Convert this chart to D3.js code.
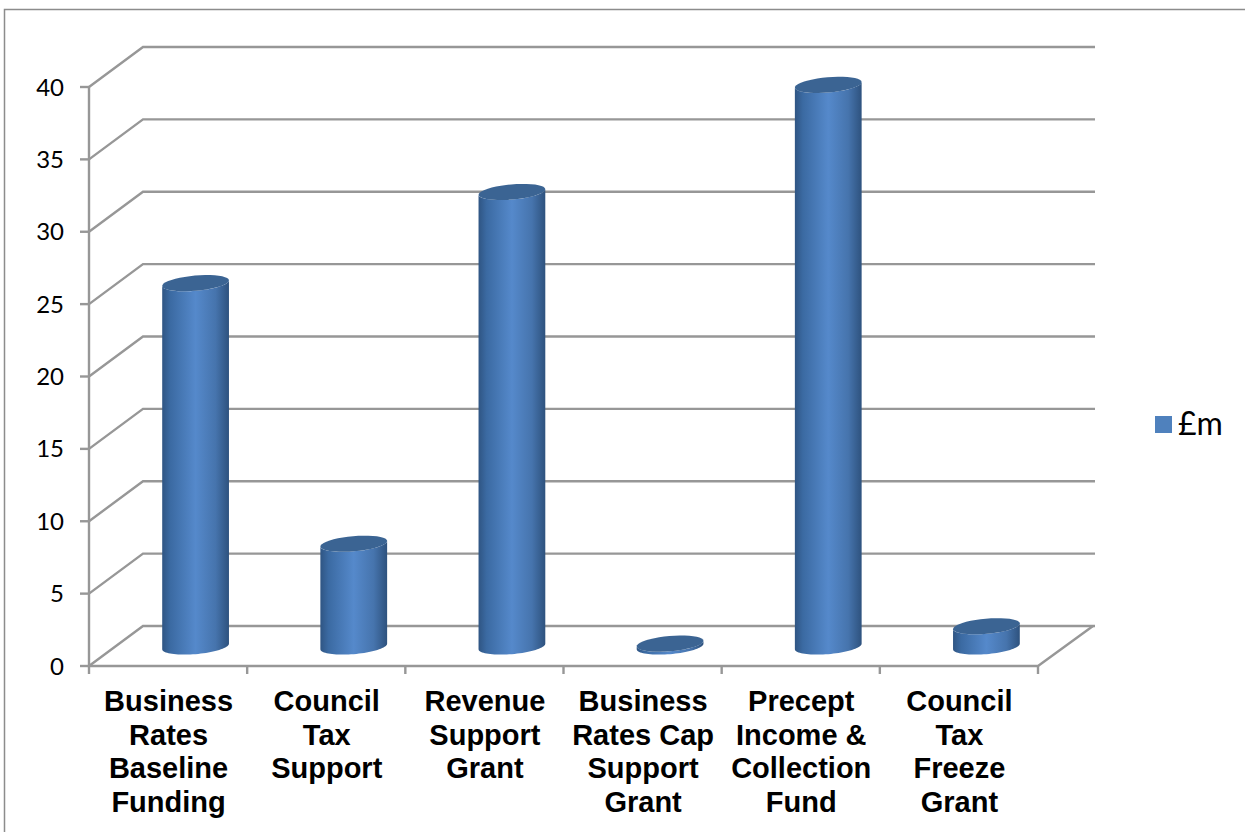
<!DOCTYPE html>
<html>
<head>
<meta charset="utf-8">
<script src="https://cdn.jsdelivr.net/npm/d3@7"></script>
<style>
html,body{margin:0;padding:0;background:#fff;overflow:hidden}
svg{display:block}
</style>
</head>
<body>
<svg id="chart" width="1245" height="832"></svg>
<script>
const categories = [
  ["Business","Rates","Baseline","Funding"],
  ["Council","Tax","Support"],
  ["Revenue","Support","Grant"],
  ["Business","Rates Cap","Support","Grant"],
  ["Precept","Income &","Collection","Fund"],
  ["Council","Tax","Freeze","Grant"]
];
const amounts = [25.1, 7.1, 31.4, 0.2, 38.8, 1.4];
const yTicks = [0, 5, 10, 15, 20, 25, 30, 35, 40];
const seriesName = "£m";

const svg = d3.select("#chart");
const gridColor = "#979797";
const depth = {x: 54, y: -40};

const x = d3.scaleBand().domain(d3.range(categories.length)).range([89, 1038]);
const y = d3.scaleLinear().domain([0, 40]).range([666, 87]);

// Frame around the chart area
svg.append("path")
  .attr("d", "M4.5,832V9.5H1245")
  .attr("fill", "none").attr("stroke", "#8c8c8c").attr("stroke-width", 1.5);

// Horizontal gradient that gives the columns their round shading
const grad = svg.append("defs").append("linearGradient").attr("id", "cyl");
[[0, "#2f5583"], [0.12, "#3b6aa2"], [0.5, "#5589cb"], [0.8, "#4674ad"], [1, "#2e527e"]]
  .forEach(([o, c]) => grad.append("stop").attr("offset", o).attr("stop-color", c));

// Back wall gridlines with their slanted returns to the value axis
const grid = svg.append("g").attr("fill", "none").attr("stroke", gridColor).attr("stroke-width", 2.4);
grid.selectAll("path").data(yTicks).join("path")
  .attr("d", d => d3.line()([
    [x.range()[0], y(d)],
    [x.range()[0] + depth.x, y(d) + depth.y],
    [x.range()[1] + depth.x + 3, y(d) + depth.y]
  ]));

// Floor edges and the value axis
grid.append("path").attr("d", d3.line()([
  [x.range()[1] + depth.x + 1, y(0) + depth.y],
  [x.range()[1], y(0)],
  [x.range()[0], y(0)],
  [x.range()[0], y(40)]
]));

// Tick marks
grid.append("g").selectAll("line").data(yTicks).join("line")
  .attr("x1", x.range()[0] - 9).attr("x2", x.range()[0])
  .attr("y1", d => y(d)).attr("y2", d => y(d));
grid.append("g").selectAll("line").data(d3.range(categories.length + 1)).join("line")
  .attr("x1", d => x.range()[0] + d * x.bandwidth())
  .attr("x2", d => x.range()[0] + d * x.bandwidth())
  .attr("y1", y(0)).attr("y2", y(0) + 8);

// Value labels
svg.append("g").selectAll("text").data(yTicks).join("text")
  .attr("x", 64).attr("y", d => y(d) + 8.5)
  .attr("text-anchor", "end")
  .attr("font-family", "Lato, sans-serif").attr("font-size", 24).attr("fill", "#000")
  .text(d => d);

// Points along a tilted ellipse between two parameter angles
const rx = 33.5, ry = 7.6, tilt = -5 * Math.PI / 180;
const tangent = Math.atan2(-ry * Math.sin(tilt), rx * Math.cos(tilt));
function arc(cx, cy, from, to) {
  return d3.range(41).map(i => {
    const t = from + (to - from) * i / 40;
    const ex = rx * Math.cos(t), ey = ry * Math.sin(t);
    return [cx + ex * Math.cos(tilt) - ey * Math.sin(tilt),
            cy + ex * Math.sin(tilt) + ey * Math.cos(tilt)];
  });
}

// Columns: shaded side first, then the darker lid
const baseX = i => x(i) + x.bandwidth() / 2 + depth.x / 2 + 0.5;
const baseShift = depth.y / 2;
const columns = svg.append("g").selectAll("g").data(amounts).join("g");
columns.append("path")
  .attr("fill", "url(#cyl)")
  .attr("d", (d, i) => {
    const cx = baseX(i), bottom = y(0) + baseShift + 0.5, top = y(d) + baseShift + 0.5;
    const lower = arc(cx, bottom, tangent, tangent + Math.PI);
    const upper = arc(cx, top, tangent + Math.PI, tangent);
    return d3.line()(lower.concat(upper)) + "Z";
  });
columns.append("path")
  .attr("fill", "#3b6493")
  .attr("d", (d, i) => d3.line()(arc(baseX(i), y(d) + baseShift + 0.5, 0, 2 * Math.PI)) + "Z");

// Category labels, one text line per array entry
const labels = svg.append("g").selectAll("text").data(categories).join("text")
  .attr("text-anchor", "middle")
  .attr("font-family", "'Liberation Sans', Arial, sans-serif")
  .attr("font-weight", 700).attr("font-size", 29).attr("fill", "#000");
labels.selectAll("tspan").data((d, i) => d.map(line => ({line, i}))).join("tspan")
  .attr("x", d => x(d.i) + x.bandwidth() / 2 + 0.5)
  .attr("y", (d, j) => 711 + j * 33.7)
  .text(d => d.line);

// Legend
svg.append("rect").attr("x", 1155).attr("y", 416).attr("width", 17).attr("height", 17).attr("fill", "#4f81bd");
svg.append("text").attr("x", 1178).attr("y", 434.5)
  .attr("font-family", "Lato, sans-serif").attr("font-size", 32).attr("fill", "#000")
  .text(seriesName);
</script>
</body>
</html>
